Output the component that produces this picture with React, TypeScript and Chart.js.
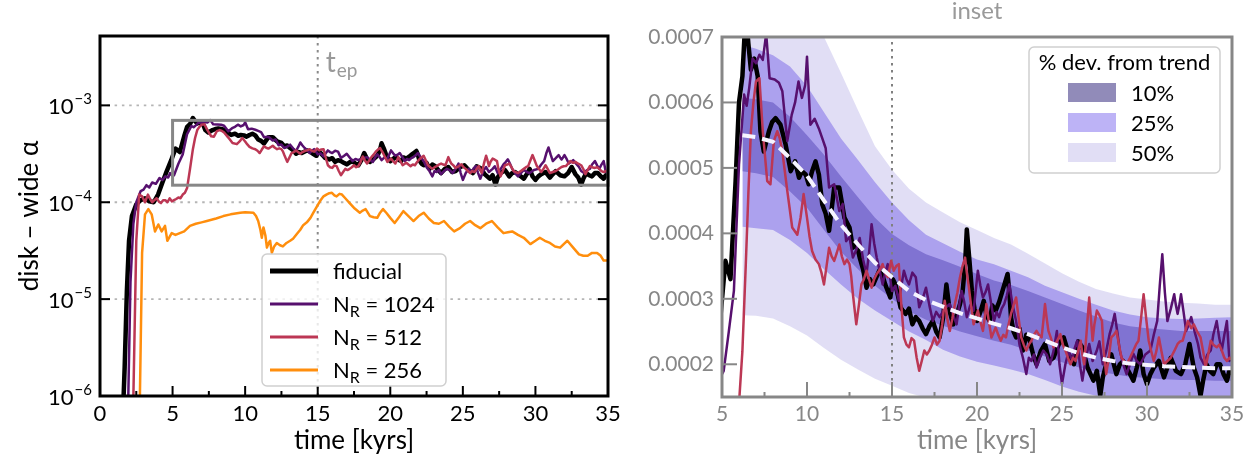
import React, { useEffect, useRef } from "react";
import { Chart, registerables } from "chart.js";

Chart.register(...registerables);

type Pt = [number, number];

// disk-wide alpha in units of 1e-4, against time in kyr
const ALPHA_UNIT = 1e-4;

const FIDUCIAL: Pt[] = [
  [1.5, 0.003], [1.7, 0.02], [1.85, 0.12], [2.0, 0.4], [2.2, 0.72], [2.5, 0.95], [2.8, 1.05], [3.1, 1.1], [3.4, 1.02],
  [3.7, 1.0], [4.0, 1.2], [4.3, 1.6], [4.6, 2.1], [4.9, 2.7], [5.2, 3.58], [5.5, 3.3], [5.8, 4.8], [6.0, 6.0], [6.2, 6.4],
  [6.4, 7.4], [6.55, 6.9], [6.7, 6.5], [6.9, 6.67], [7.1, 6.4], [7.26, 5.56], [7.46, 5.25], [7.76, 5.56], [7.95, 5.7],
  [8.15, 5.76], [8.44, 5.66], [8.74, 5.36], [9.04, 4.95], [9.3, 5.1], [9.53, 4.85], [9.7, 4.95], [9.92, 4.9], [10.1, 4.75],
  [10.3, 4.95], [10.5, 5.1], [10.7, 4.9], [10.9, 4.44], [11.1, 4.3], [11.3, 4.04], [11.6, 4.7], [11.9, 4.7], [12.2, 4.24],
  [12.5, 4.09], [12.7, 3.78], [12.9, 3.85], [13.1, 3.63], [13.3, 3.45], [13.5, 3.17], [13.7, 3.3], [13.9, 3.22], [14.25, 3.43],
  [14.45, 3.35], [14.6, 3.22], [14.9, 3.02], [15.05, 3.3], [15.2, 3.22], [15.35, 3.05], [15.5, 2.87], [15.8, 2.77], [16.0, 2.85],
  [16.2, 2.61], [16.4, 2.72], [16.6, 2.66], [16.8, 2.55], [17.0, 2.46], [17.2, 2.58], [17.4, 2.66], [17.6, 2.5], [17.8, 2.41],
  [18.0, 2.7], [18.2, 3.22], [18.4, 2.8], [18.6, 2.61], [18.8, 2.75], [19.0, 2.92], [19.15, 3.1], [19.3, 3.53], [19.4, 4.06],
  [19.55, 3.6], [19.7, 3.12], [19.85, 2.85], [20.0, 2.66], [20.2, 2.8], [20.4, 2.97], [20.55, 2.75], [20.75, 2.66], [20.9, 2.9],
  [21.1, 2.82], [21.3, 2.95], [21.5, 3.12], [21.65, 3.25], [21.8, 3.38], [21.9, 3.1], [22.0, 2.72], [22.15, 2.5], [22.3, 2.41],
  [22.5, 2.55], [22.7, 2.21], [22.9, 2.45], [23.1, 2.36], [23.3, 2.15], [23.5, 2.0], [23.75, 2.2], [24.0, 2.31], [24.25, 2.05],
  [24.5, 2.1], [24.8, 2.3], [25.1, 2.41], [25.4, 2.15], [25.7, 2.0], [25.95, 2.35], [26.2, 2.26], [26.5, 1.95], [26.85, 1.75],
  [27.05, 1.9], [27.25, 1.52], [27.4, 1.8], [27.6, 2.0], [27.9, 2.15], [28.2, 1.85], [28.4, 2.0], [28.6, 2.05], [28.9, 1.9],
  [29.2, 1.75], [29.4, 1.95], [29.6, 2.21], [29.8, 1.85], [30.0, 1.7], [30.2, 1.85], [30.4, 1.95], [30.7, 2.05], [31.0, 1.8],
  [31.2, 1.95], [31.4, 2.1], [31.7, 1.9], [32.0, 1.85], [32.25, 2.0], [32.5, 2.31], [32.75, 1.95], [32.95, 1.8], [33.15, 1.52],
  [33.3, 1.75], [33.5, 2.0], [33.7, 1.9], [33.9, 1.85], [34.1, 2.0], [34.3, 2.0], [34.5, 1.85], [34.7, 1.75], [34.85, 1.9], [35.0, 1.85],
];

const NR_1024: Pt[] = [
  [1.8, 0.003], [1.95, 0.01], [2.1, 0.15], [2.3, 0.6], [2.5, 1.0], [2.8, 1.3], [3.0, 1.35], [3.2, 1.5], [3.4, 1.42], [3.6, 1.6],
  [3.85, 1.55], [4.1, 1.78], [4.3, 1.7], [4.5, 1.85], [4.7, 1.8], [4.83, 2.0], [5.0, 1.85], [5.1, 1.9], [5.4, 2.5], [5.7, 3.12],
  [6.0, 5.05], [6.3, 6.12], [6.45, 5.95], [6.6, 6.22], [6.8, 6.67], [7.0, 6.6], [7.2, 6.73], [7.4, 6.65], [7.6, 7.05], [7.8, 6.37],
  [8.1, 6.35], [8.35, 6.3], [8.55, 6.17], [8.84, 5.41], [9.1, 5.81], [9.3, 6.0], [9.5, 6.32], [9.7, 6.07], [9.9, 6.27], [10.0, 6.7],
  [10.2, 5.66], [10.45, 5.75], [10.7, 5.6], [10.9, 5.45], [11.1, 5.3], [11.3, 4.7], [11.6, 4.75], [11.9, 4.34], [12.1, 4.45],
  [12.3, 3.88], [12.5, 3.95], [12.7, 3.63], [12.9, 3.75], [13.1, 3.93], [13.3, 3.6], [13.5, 3.38], [13.65, 3.7], [13.8, 4.14],
  [13.95, 3.85], [14.1, 3.63], [14.3, 3.4], [14.45, 3.22], [14.6, 3.4], [14.75, 3.53], [14.9, 3.3], [15.0, 3.12], [15.2, 3.2],
  [15.4, 2.97], [15.55, 3.2], [15.7, 3.43], [15.85, 3.3], [16.0, 3.22], [16.2, 3.4], [16.4, 3.33], [16.6, 2.87], [16.8, 3.0],
  [17.0, 3.17], [17.2, 2.9], [17.4, 2.66], [17.6, 2.8], [17.8, 2.72], [18.1, 2.85], [18.4, 2.92], [18.6, 2.75], [18.8, 2.61],
  [18.95, 2.9], [19.1, 3.12], [19.25, 2.95], [19.4, 2.72], [19.6, 2.9], [19.8, 2.82], [20.05, 3.43], [20.2, 3.2], [20.35, 3.02],
  [20.5, 3.1], [20.65, 3.22], [20.85, 2.9], [21.0, 2.66], [21.15, 2.8], [21.3, 2.72], [21.45, 2.85], [21.6, 2.92], [21.75, 3.05],
  [21.9, 3.22], [22.1, 2.9], [22.3, 2.66], [22.5, 2.3], [22.7, 2.1], [22.9, 1.85], [23.05, 2.1], [23.2, 2.05], [23.35, 2.15],
  [23.5, 1.95], [23.7, 2.1], [23.9, 2.21], [24.1, 2.15], [24.3, 2.0], [24.5, 2.2], [24.7, 2.51], [24.85, 2.0], [25.0, 1.7],
  [25.2, 2.0], [25.4, 2.21], [25.6, 2.05], [25.75, 2.25], [25.9, 2.36], [26.05, 2.0], [26.2, 1.75], [26.4, 2.1], [26.6, 2.31],
  [26.8, 2.05], [27.05, 2.21], [27.2, 2.35], [27.4, 2.0], [27.6, 2.2], [27.8, 2.46], [27.95, 2.6], [28.1, 2.77], [28.25, 2.5],
  [28.4, 2.21], [28.6, 2.0], [28.8, 1.85], [29.0, 2.0], [29.2, 2.16], [29.4, 2.05], [29.6, 2.0], [29.9, 2.15], [30.2, 2.21],
  [30.4, 2.45], [30.6, 2.66], [30.75, 3.2], [30.9, 3.68], [31.05, 3.1], [31.2, 2.66], [31.4, 2.85], [31.6, 3.07], [31.7, 2.9],
  [31.8, 2.77], [31.9, 2.9], [32.0, 3.07], [32.15, 2.8], [32.3, 2.51], [32.45, 2.6], [32.6, 2.72], [32.8, 2.5], [33.0, 2.31],
  [33.15, 2.1], [33.35, 2.0], [33.55, 2.15], [33.75, 2.21], [33.9, 2.45], [34.1, 2.66], [34.25, 2.4], [34.4, 2.21], [34.55, 2.45],
  [34.7, 2.66], [34.85, 2.05], [35.0, 2.1],
];

const NR_512: Pt[] = [
  [2.1, 0.003], [2.3, 0.01], [2.5, 0.4], [2.7, 1.2], [2.9, 1.15], [3.1, 1.0], [3.3, 1.2], [3.45, 1.08], [3.6, 1.0], [3.75, 1.05],
  [3.9, 1.1], [4.05, 1.02], [4.2, 0.98], [4.35, 1.05], [4.5, 1.05], [4.65, 1.0], [4.8, 1.1], [4.95, 1.02], [5.1, 1.05], [5.25, 1.08],
  [5.4, 1.12], [5.55, 1.1], [5.7, 1.2], [5.85, 1.25], [6.0, 1.4], [6.2, 2.2], [6.4, 3.53], [6.55, 4.6], [6.7, 5.56], [6.85, 6.0],
  [7.0, 6.32], [7.2, 6.37], [7.4, 5.56], [7.66, 4.8], [7.85, 4.75], [8.05, 5.41], [8.25, 5.56], [8.4, 5.45], [8.55, 5.25],
  [8.84, 4.65], [9.13, 4.09], [9.43, 3.98], [9.62, 4.24], [9.8, 4.6], [10.0, 4.24], [10.15, 3.95], [10.3, 3.73], [10.5, 3.6],
  [10.7, 3.53], [10.85, 3.4], [11.0, 3.22], [11.15, 3.5], [11.3, 3.78], [11.45, 3.65], [11.6, 3.58], [11.75, 3.7], [11.9, 3.83],
  [12.05, 3.65], [12.2, 3.53], [12.35, 3.6], [12.5, 3.53], [12.6, 3.35], [12.7, 3.07], [12.9, 2.61], [13.05, 2.9], [13.2, 3.22],
  [13.35, 3.3], [13.5, 3.43], [13.65, 3.3], [13.8, 3.17], [13.95, 3.3], [14.1, 3.38], [14.3, 3.45], [14.45, 3.53], [14.6, 3.4],
  [14.75, 3.33], [14.95, 3.58], [15.1, 3.43], [15.25, 3.5], [15.4, 3.53], [15.55, 2.9], [15.7, 2.41], [15.85, 2.3], [16.0, 2.26],
  [16.15, 2.4], [16.3, 2.36], [16.45, 2.1], [16.6, 1.9], [16.75, 2.05], [16.9, 2.21], [17.05, 2.15], [17.2, 2.21], [17.35, 2.3],
  [17.5, 2.41], [17.65, 2.3], [17.8, 2.36], [17.95, 2.6], [18.1, 2.97], [18.25, 2.7], [18.4, 2.51], [18.55, 2.7], [18.7, 2.92],
  [18.85, 3.1], [19.0, 3.33], [19.15, 3.5], [19.3, 3.63], [19.4, 3.4], [19.5, 3.22], [19.65, 2.9], [19.8, 2.61], [19.9, 2.7],
  [20.05, 2.82], [20.2, 2.65], [20.35, 2.51], [20.45, 2.7], [20.55, 2.92], [20.7, 2.65], [20.85, 2.41], [21.0, 2.5], [21.1, 2.56],
  [21.25, 2.45], [21.4, 2.36], [21.55, 2.45], [21.7, 2.41], [21.85, 2.6], [22.0, 2.77], [22.15, 2.9], [22.3, 3.02], [22.45, 2.7],
  [22.6, 2.41], [22.75, 2.3], [22.9, 2.21], [23.05, 2.3], [23.2, 2.36], [23.35, 2.45], [23.5, 2.51], [23.65, 2.45], [23.8, 2.41],
  [23.9, 2.65], [24.0, 2.92], [24.1, 2.7], [24.2, 2.51], [24.35, 2.4], [24.5, 2.26], [24.7, 2.35], [24.9, 2.46], [25.05, 2.3],
  [25.2, 2.21], [25.35, 2.1], [25.5, 2.0], [25.65, 2.1], [25.8, 2.05], [25.95, 2.2], [26.1, 2.36], [26.2, 2.15], [26.3, 2.0],
  [26.45, 2.5], [26.6, 3.02], [26.7, 2.7], [26.8, 2.36], [26.9, 2.6], [27.05, 2.82], [27.2, 2.75], [27.35, 2.66], [27.45, 2.2],
  [27.6, 1.85], [27.75, 2.1], [27.9, 2.41], [28.05, 2.45], [28.2, 2.51], [28.35, 2.3], [28.5, 2.1], [28.65, 2.05], [28.8, 2.0],
  [29.0, 2.1], [29.2, 2.21], [29.35, 2.3], [29.5, 2.36], [29.65, 2.7], [29.8, 3.07], [29.95, 2.7], [30.1, 2.36], [30.25, 2.2],
  [30.4, 2.05], [30.55, 2.2], [30.7, 2.41], [30.85, 2.2], [31.0, 2.0], [31.2, 2.05], [31.4, 2.1], [31.6, 2.2], [31.8, 2.31],
  [31.95, 2.35], [32.1, 2.36], [32.25, 2.5], [32.4, 2.66], [32.6, 2.55], [32.75, 2.61], [32.95, 2.5], [33.15, 2.41], [33.3, 2.2],
  [33.45, 1.95], [33.6, 2.15], [33.75, 2.36], [33.9, 2.3], [34.1, 2.26], [34.25, 2.3], [34.4, 2.21], [34.55, 2.1], [34.7, 2.05],
  [34.85, 2.1], [35.0, 2.08],
];

const NR_256: Pt[] = [
  [2.6, 0.003], [2.75, 0.01], [2.9, 0.3], [3.1, 0.75], [3.33, 0.85], [3.56, 0.75], [3.79, 0.5], [4.02, 0.59], [4.25, 0.5],
  [4.48, 0.57], [4.64, 0.4], [4.94, 0.48], [5.2, 0.46], [5.5, 0.48], [5.8, 0.5], [6.2, 0.57], [6.6, 0.6], [7.0, 0.62],
  [7.36, 0.64], [8.0, 0.68], [8.5, 0.72], [9.0, 0.75], [9.66, 0.78], [10.0, 0.79], [10.57, 0.78], [10.75, 0.72], [10.9, 0.64],
  [11.05, 0.52], [11.15, 0.43], [11.26, 0.55], [11.4, 0.45], [11.5, 0.34], [11.62, 0.38], [11.72, 0.4], [11.84, 0.3], [12.0, 0.35],
  [12.18, 0.38], [12.4, 0.36], [12.6, 0.35], [12.85, 0.38], [13.1, 0.4], [13.3, 0.42], [13.56, 0.47], [13.8, 0.52], [14.0, 0.58],
  [14.25, 0.62], [14.5, 0.69], [14.7, 0.78], [14.94, 0.9], [15.2, 1.05], [15.4, 1.15], [15.6, 1.2], [15.8, 1.24], [15.98, 1.25],
  [16.15, 1.18], [16.3, 1.15], [16.5, 1.22], [16.67, 1.2], [16.9, 1.1], [17.2, 0.98], [17.55, 0.86], [17.9, 0.78], [18.1, 0.82],
  [18.3, 0.85], [18.6, 0.72], [18.85, 0.7], [19.1, 0.69], [19.3, 0.78], [19.5, 0.85], [19.75, 0.77], [20.0, 0.69], [20.3, 0.61],
  [20.6, 0.7], [20.9, 0.81], [21.25, 0.72], [21.6, 0.64], [21.95, 0.72], [22.3, 0.78], [22.65, 0.68], [23.0, 0.61], [23.35, 0.6],
  [23.7, 0.64], [24.05, 0.56], [24.4, 0.5], [24.8, 0.54], [25.15, 0.6], [25.5, 0.64], [25.85, 0.58], [26.2, 0.54], [26.6, 0.6],
  [27.0, 0.64], [27.4, 0.55], [27.8, 0.48], [28.1, 0.49], [28.4, 0.5], [28.8, 0.46], [29.2, 0.43], [29.65, 0.37], [30.0, 0.4],
  [30.3, 0.43], [30.65, 0.4], [31.0, 0.38], [31.35, 0.35], [31.7, 0.34], [31.95, 0.37], [32.2, 0.4], [32.6, 0.34], [33.0, 0.29],
  [33.3, 0.28], [33.6, 0.28], [33.9, 0.3], [34.25, 0.3], [34.5, 0.28], [34.7, 0.25], [35.0, 0.25],
];

// long-term trend and the deviation bands around it (units of 1e-4)
const TREND_T = [6.2, 7, 8, 9, 10, 11, 12, 13, 14, 15, 16, 17, 18, 19, 20, 21, 22, 23, 24, 25, 26, 27, 28, 29, 30, 31, 32, 33, 34, 35];
const TREND = [5.5, 5.47, 5.4, 5.15, 4.88, 4.5, 4.13, 3.83, 3.55, 3.33, 3.12, 2.98, 2.88, 2.78, 2.7, 2.62, 2.55, 2.46, 2.36, 2.26, 2.17, 2.1, 2.05, 2.01, 1.99, 1.97, 1.96, 1.95, 1.94, 1.94];
const BAND10_HI = [6.07, 6.05, 6.0, 5.78, 5.5, 5.2, 4.87, 4.55, 4.24, 3.99, 3.82, 3.68, 3.59, 3.49, 3.38, 3.28, 3.21, 3.12, 3.02, 2.92, 2.82, 2.73, 2.64, 2.58, 2.55, 2.53, 2.51, 2.51, 2.51, 2.51];
const BAND10_LO = [4.95, 4.92, 4.86, 4.64, 4.39, 4.05, 3.72, 3.45, 3.2, 3.0, 2.81, 2.68, 2.59, 2.5, 2.43, 2.36, 2.3, 2.21, 2.12, 2.03, 1.95, 1.89, 1.85, 1.81, 1.79, 1.77, 1.76, 1.76, 1.75, 1.75];
const BAND25_HI = [6.88, 6.82, 6.72, 6.55, 6.25, 5.85, 5.45, 5.12, 4.78, 4.47, 4.2, 3.98, 3.85, 3.72, 3.6, 3.53, 3.43, 3.33, 3.2, 3.1, 3.0, 2.91, 2.82, 2.76, 2.72, 2.7, 2.69, 2.7, 2.71, 2.72];
const BAND25_LO = [4.1, 4.08, 4.05, 3.9, 3.7, 3.45, 3.22, 3.0, 2.82, 2.66, 2.5, 2.37, 2.22, 2.12, 2.04, 1.98, 1.92, 1.85, 1.76, 1.66, 1.58, 1.52, 1.48, 1.47, 1.46, 1.46, 1.46, 1.46, 1.46, 1.46];
const BAND50_HI = [8.25, 8.21, 8.1, 7.73, 7.32, 7.0, 6.45, 5.88, 5.33, 4.97, 4.68, 4.47, 4.32, 4.17, 4.05, 3.93, 3.83, 3.69, 3.54, 3.39, 3.26, 3.15, 3.08, 3.02, 2.99, 2.96, 2.94, 2.93, 2.91, 2.91];
const BAND50_LO = [2.75, 2.74, 2.7, 2.58, 2.44, 2.25, 2.07, 1.92, 1.78, 1.67, 1.56, 1.49, 1.44, 1.39, 1.35, 1.31, 1.28, 1.23, 1.18, 1.13, 1.09, 1.05, 1.03, 1.01, 1.0, 0.99, 0.98, 0.98, 0.97, 0.97];

const T_EP = 15;
const INSET_T = [5, 35];
const INSET_ALPHA = [1.5e-4, 7e-4];

const LEFT_X_TICKS = [0, 5, 10, 15, 20, 25, 30, 35];
const LEFT_X_MINOR = [2.5, 7.5, 12.5, 17.5, 22.5, 27.5, 32.5];
const LEFT_Y_EXPONENTS = [-6, -5, -4, -3];
const RIGHT_X_TICKS = [5, 10, 15, 20, 25, 30, 35];
const RIGHT_X_MINOR = [7.5, 12.5, 17.5, 22.5, 27.5, 32.5];
const RIGHT_Y_TICKS = [0.0002, 0.0003, 0.0004, 0.0005, 0.0006, 0.0007];

const RUN_LEGEND = [
  { base: "fiducial", sub: "", rest: "" },
  { base: "N", sub: "R", rest: " = 1024" },
  { base: "N", sub: "R", rest: " = 512" },
  { base: "N", sub: "R", rest: " = 256" },
];
const BAND_LEGEND = ["10%", "25%", "50%"];

const C_FID = "#000000";
const C_1024 = "#57106e";
const C_512 = "#bc3754";
const C_256 = "#ff8e0d";
const C_BAND10 = "rgba(72,61,139,0.6)";
const C_BAND25 = "rgba(123,104,238,0.5)";
const C_BAND50 = "rgba(106,90,205,0.2)";
const GREY = "#878787";

const FONT = "Lato, 'DejaVu Sans', sans-serif";
const font = (px: number) => `${px}px ${FONT}`;

const toXY = (pts: Pt[]) => pts.map(([t, a]) => ({ x: t, y: a * ALPHA_UNIT }));
const bandXY = (vals: number[]) => TREND_T.map((t, i) => ({ x: t, y: vals[i] * ALPHA_UNIT }));

const lineSet = (pts: Pt[], color: string, width: number, order: number) => ({
  data: toXY(pts),
  borderColor: color,
  borderWidth: width,
  pointRadius: 0,
  fill: false,
  order,
  clip: 0,
  tension: 0,
  borderJoinStyle: "round",
});

const edgeSet = (vals: number[], order: number, color: string | null) => ({
  data: bandXY(vals),
  borderColor: "rgba(0,0,0,0)",
  borderWidth: 0,
  pointRadius: 0,
  backgroundColor: color || "rgba(0,0,0,0)",
  fill: color ? "-1" : false,
  order,
  clip: 0,
});

function seg(ctx: CanvasRenderingContext2D, x0: number, y0: number, x1: number, y1: number) {
  ctx.beginPath();
  ctx.moveTo(x0, y0);
  ctx.lineTo(x1, y1);
  ctx.stroke();
}

function roundBox(ctx: CanvasRenderingContext2D, x: number, y: number, w: number, h: number, r: number) {
  ctx.beginPath();
  ctx.moveTo(x + r, y);
  ctx.arcTo(x + w, y, x + w, y + h, r);
  ctx.arcTo(x + w, y + h, x, y + h, r);
  ctx.arcTo(x, y + h, x, y, r);
  ctx.arcTo(x, y, x + w, y, r);
  ctx.closePath();
  ctx.fillStyle = "rgba(255,255,255,0.8)";
  ctx.fill();
  ctx.strokeStyle = "#cfcfcf";
  ctx.lineWidth = 1.5;
  ctx.setLineDash([]);
  ctx.stroke();
}

const leftDecor = {
  id: "leftDecor",
  beforeDatasetsDraw(chart: any) {
    const { ctx, chartArea: a } = chart;
    const x = chart.scales.x;
    const y = chart.scales.y;
    ctx.save();
    ctx.strokeStyle = "#b5b5b5";
    ctx.lineWidth = 1.8;
    ctx.setLineDash([2.5, 4.8]);
    LEFT_Y_EXPONENTS.forEach((e) => {
      const py = y.getPixelForValue(Math.pow(10, e));
      if (py > a.top + 2 && py < a.bottom - 2) seg(ctx, a.left, py, a.right, py);
    });
    ctx.strokeStyle = "#8a8a8a";
    ctx.lineWidth = 2;
    ctx.setLineDash([2.5, 4.5]);
    const tx = x.getPixelForValue(T_EP);
    seg(ctx, tx, a.top, tx, a.bottom);
    ctx.restore();
  },
  afterDatasetsDraw(chart: any) {
    const { ctx, chartArea: a } = chart;
    const x = chart.scales.x;
    const y = chart.scales.y;
    ctx.save();

    // inset region outline
    const bx0 = x.getPixelForValue(INSET_T[0]);
    const bx1 = x.getPixelForValue(INSET_T[1]);
    const by0 = y.getPixelForValue(INSET_ALPHA[1]);
    const by1 = y.getPixelForValue(INSET_ALPHA[0]);
    ctx.strokeStyle = GREY;
    ctx.lineWidth = 3;
    ctx.strokeRect(bx0, by0, bx1 - bx0, by1 - by0);

    // frame
    ctx.strokeStyle = "#000";
    ctx.lineWidth = 3;
    ctx.strokeRect(a.left, a.top, a.right - a.left, a.bottom - a.top);

    // inward ticks
    ctx.lineWidth = 2;
    LEFT_X_TICKS.forEach((v) => {
      const px = x.getPixelForValue(v);
      seg(ctx, px, a.bottom, px, a.bottom - 10);
    });
    LEFT_X_MINOR.forEach((v) => {
      const px = x.getPixelForValue(v);
      seg(ctx, px, a.bottom, px, a.bottom - 5);
    });
    LEFT_Y_EXPONENTS.forEach((e) => {
      const py = y.getPixelForValue(Math.pow(10, e));
      seg(ctx, a.left, py, a.left + 10, py);
      seg(ctx, a.right, py, a.right - 10, py);
    });

    // tick labels
    ctx.fillStyle = "#000";
    ctx.font = font(22);
    ctx.textAlign = "center";
    ctx.textBaseline = "middle";
    LEFT_X_TICKS.forEach((v) => ctx.fillText(String(v), x.getPixelForValue(v), a.bottom + 18));
    ctx.textAlign = "left";
    ctx.textBaseline = "alphabetic";
    LEFT_Y_EXPONENTS.forEach((e) => {
      const py = y.getPixelForValue(Math.pow(10, e));
      const sup = "\u2212" + Math.abs(e);
      ctx.font = font(15);
      const sw = ctx.measureText(sup).width;
      ctx.font = font(22);
      const bw = ctx.measureText("10").width;
      const x0 = a.left - 9 - sw - bw;
      ctx.fillText("10", x0, py + 9);
      ctx.font = font(15);
      ctx.fillText(sup, x0 + bw + 1, py - 1);
    });

    // axis titles
    ctx.font = font(26);
    ctx.textAlign = "center";
    ctx.textBaseline = "middle";
    ctx.fillText("time [kyrs]", (a.left + a.right) / 2, a.bottom + 45);
    ctx.save();
    ctx.translate(30, (a.top + a.bottom) / 2);
    ctx.rotate(-Math.PI / 2);
    ctx.fillText("disk \u2013 wide \u03b1", 0, 0);
    ctx.restore();

    // t_ep marker label
    const tx = x.getPixelForValue(T_EP);
    ctx.fillStyle = "#999999";
    ctx.textAlign = "left";
    ctx.textBaseline = "alphabetic";
    ctx.font = font(28);
    ctx.fillText("t", tx + 8, a.top + 36);
    const tw = ctx.measureText("t").width;
    ctx.font = font(19);
    ctx.fillText("ep", tx + 8 + tw + 1, a.top + 41);

    // legend
    roundBox(ctx, 262, 254, 184, 132, 5);
    const colors = [C_FID, C_1024, C_512, C_256];
    const widths = [5, 3, 3, 3];
    RUN_LEGEND.forEach((item, i) => {
      const cy = 271 + i * 33;
      ctx.strokeStyle = colors[i];
      ctx.lineWidth = widths[i];
      ctx.setLineDash([]);
      seg(ctx, 270, cy, 318, cy);
      ctx.fillStyle = "#000";
      ctx.textAlign = "left";
      ctx.textBaseline = "alphabetic";
      ctx.font = font(22);
      let cx = 333;
      ctx.fillText(item.base, cx, cy + 8);
      cx += ctx.measureText(item.base).width;
      if (item.sub) {
        ctx.font = font(16);
        ctx.fillText(item.sub, cx, cy + 12.5);
        cx += ctx.measureText(item.sub).width;
        ctx.font = font(22);
        ctx.fillText(item.rest, cx, cy + 8);
      }
    });
    ctx.restore();
  },
};

// index of the first curve drawn after the bands
const FIRST_CURVE_INDEX = 6;

const rightDecor = {
  id: "rightDecor",
  beforeDatasetDraw(chart: any, args: any) {
    if (args.index !== FIRST_CURVE_INDEX) return;
    const { ctx, chartArea: a } = chart;
    const tx = chart.scales.x.getPixelForValue(T_EP);
    ctx.save();
    ctx.strokeStyle = "#808080";
    ctx.lineWidth = 2;
    ctx.setLineDash([2.5, 4.5]);
    seg(ctx, tx, a.top + 5, tx, a.bottom);
    ctx.restore();
  },
  afterDatasetsDraw(chart: any) {
    const { ctx, chartArea: a } = chart;
    const x = chart.scales.x;
    const y = chart.scales.y;
    ctx.save();

    ctx.strokeStyle = GREY;
    ctx.lineWidth = 3;
    ctx.strokeRect(a.left, a.top, a.right - a.left, a.bottom - a.top);

    ctx.lineWidth = 2;
    RIGHT_X_TICKS.forEach((v) => {
      const px = x.getPixelForValue(v);
      seg(ctx, px, a.bottom, px, a.bottom - 15);
    });
    RIGHT_X_MINOR.forEach((v) => {
      const px = x.getPixelForValue(v);
      seg(ctx, px, a.bottom, px, a.bottom - 5);
    });
    RIGHT_Y_TICKS.forEach((v) => {
      const py = y.getPixelForValue(v);
      seg(ctx, a.left, py, a.left + 15, py);
    });

    ctx.fillStyle = GREY;
    ctx.font = font(21);
    ctx.textAlign = "center";
    ctx.textBaseline = "middle";
    RIGHT_X_TICKS.forEach((v) => ctx.fillText(String(v), x.getPixelForValue(v), a.bottom + 17));
    ctx.textAlign = "right";
    RIGHT_Y_TICKS.forEach((v) => ctx.fillText(v.toFixed(4), a.left - 8, y.getPixelForValue(v)));

    ctx.textAlign = "center";
    ctx.font = font(26);
    ctx.fillText("time [kyrs]", (a.left + a.right) / 2, a.bottom + 44);
    ctx.fillStyle = "#9a9a9a";
    ctx.textBaseline = "alphabetic";
    ctx.font = font(24);
    ctx.fillText("inset", (a.left + a.right) / 2, 19);

    // band legend
    roundBox(ctx, 399, 47, 191, 126, 5);
    ctx.fillStyle = "#000";
    ctx.font = font(22);
    ctx.textAlign = "center";
    ctx.textBaseline = "alphabetic";
    ctx.fillText("% dev. from trend", 494.5, 70);
    const fills = [C_BAND10, C_BAND25, C_BAND50];
    BAND_LEGEND.forEach((label, i) => {
      const cy = 92.5 + i * 30;
      ctx.fillStyle = fills[i];
      ctx.fillRect(438, cy - 9.5, 48, 19);
      ctx.fillStyle = "#000";
      ctx.textAlign = "left";
      ctx.font = font(22);
      ctx.fillText(label, 501, cy + 8);
    });
    ctx.restore();
  },
};

function leftConfig(): any {
  return {
    type: "line",
    data: {
      datasets: [
        lineSet(FIDUCIAL, C_FID, 4.5, 4),
        lineSet(NR_1024, C_1024, 2.5, 3),
        lineSet(NR_512, C_512, 2.5, 2),
        lineSet(NR_256, C_256, 2.5, 1),
      ],
    },
    options: {
      responsive: false,
      animation: false,
      events: [],
      layout: { padding: { left: 100, right: 22, top: 36, bottom: 72 } },
      scales: {
        x: { type: "linear", min: 0, max: 35, display: false },
        y: { type: "logarithmic", min: 1e-6, max: 5.2e-3, display: false },
      },
      plugins: { legend: { display: false }, tooltip: { enabled: false } },
    },
    plugins: [leftDecor],
  };
}

function rightConfig(): any {
  const trend = {
    data: bandXY(TREND),
    borderColor: "#f6f4ff",
    borderWidth: 4,
    borderDash: [13, 7],
    pointRadius: 0,
    fill: false,
    order: 1,
    clip: 0,
  };
  return {
    type: "line",
    data: {
      datasets: [
        edgeSet(BAND10_LO, 12, null),
        edgeSet(BAND10_HI, 12, C_BAND10),
        edgeSet(BAND25_LO, 11, null),
        edgeSet(BAND25_HI, 11, C_BAND25),
        edgeSet(BAND50_LO, 10, null),
        edgeSet(BAND50_HI, 10, C_BAND50),
        lineSet(FIDUCIAL, C_FID, 4.5, 4),
        lineSet(NR_1024, C_1024, 2.5, 3),
        lineSet(NR_512, C_512, 2.5, 2),
        trend,
      ],
    },
    options: {
      responsive: false,
      animation: false,
      events: [],
      layout: { padding: { left: 92, right: 28, top: 37, bottom: 71 } },
      scales: {
        x: { type: "linear", min: 5, max: 35, display: false },
        y: { type: "linear", min: 0.00015, max: 0.0007, display: false },
      },
      plugins: { legend: { display: false }, tooltip: { enabled: false } },
    },
    plugins: [rightDecor],
  };
}

export default function App() {
  const leftRef = useRef<HTMLCanvasElement>(null);
  const rightRef = useRef<HTMLCanvasElement>(null);

  useEffect(() => {
    let charts: Chart[] = [];
    let cancelled = false;
    const build = () => {
      if (cancelled || !leftRef.current || !rightRef.current) return;
      charts = [new Chart(leftRef.current, leftConfig()), new Chart(rightRef.current, rightConfig())];
    };
    const fonts: any = (document as any).fonts;
    if (fonts && fonts.load) {
      Promise.all([fonts.load(font(20)), fonts.load(font(14))]).then(build, build);
    } else {
      build();
    }
    return () => {
      cancelled = true;
      charts.forEach((c) => c.destroy());
      charts = [];
    };
  }, []);

  return (
    <div style={{ position: "absolute", left: 0, top: 0, width: 1260, height: 468, background: "#ffffff" }}>
      <canvas ref={leftRef} width={630} height={468} style={{ position: "absolute", left: 0, top: 0, width: 630, height: 468 }} />
      <canvas ref={rightRef} width={630} height={468} style={{ position: "absolute", left: 630, top: 0, width: 630, height: 468 }} />
    </div>
  );
}
